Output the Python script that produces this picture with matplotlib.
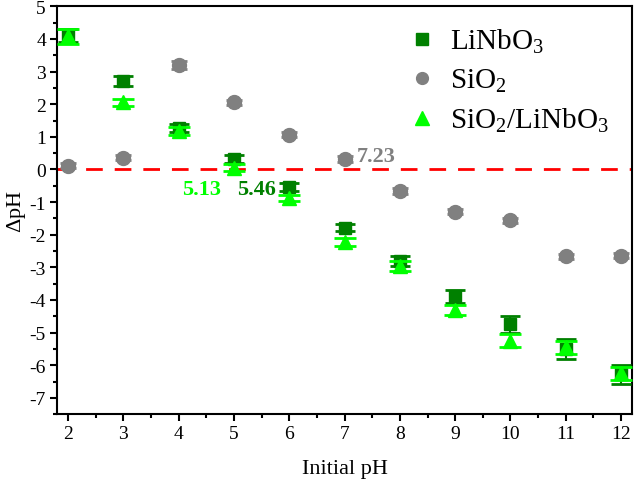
import numpy as np
import matplotlib
matplotlib.use('Agg')
from matplotlib import pyplot as plt
from matplotlib.ticker import MultipleLocator
from matplotlib.lines import Line2D

plt.rcParams['font.family'] = ['Liberation Serif', 'DejaVu Serif']
plt.rcParams['mathtext.fontset'] = 'custom'
plt.rcParams['mathtext.rm'] = 'Liberation Serif'
plt.rcParams['mathtext.it'] = 'Liberation Serif:italic'
plt.rcParams['mathtext.bf'] = 'Liberation Serif:bold'
plt.rcParams['axes.unicode_minus'] = False

ph_inicial = [2, 3, 4, 5, 6, 7, 8, 9, 10, 11, 12]

delta_linbo3 = [4.1, 2.72, 1.28, 0.31, -0.53, -1.78, -2.8, -3.88, -4.75, -5.5, -6.28]
erro_linbo3 = [0.2, 0.15, 0.12, 0.12, 0.12, 0.12, 0.15, 0.2, 0.25, 0.3, 0.3]

delta_sio2 = [0.12, 0.36, 3.2, 2.06, 1.07, 0.32, -0.66, -1.3, -1.56, -2.66, -2.64]
erro_sio2 = [0.08, 0.08, 0.12, 0.08, 0.08, 0.08, 0.08, 0.08, 0.08, 0.08, 0.08]

delta_comp = [4.08, 2.06, 1.18, 0.06, -0.88, -2.22, -2.97, -4.3, -5.25, -5.45, -6.25]
erro_comp = [0.22, 0.1, 0.12, 0.1, 0.1, 0.12, 0.15, 0.15, 0.2, 0.2, 0.2]

nomes = [r'LiNbO$_3$', r'SiO$_2$', r'SiO$_2$/LiNbO$_3$']

verdeEscuro = '#008000'
verdeClaro = '#00ff00'
cinza = '#808080'

fig = plt.figure(figsize=(6.34, 4.89), dpi=100)
ax = fig.add_axes([0.09, 0.151, 0.907, 0.834])

ax.axhline(0, color='red', lw=2, dashes=(6, 4.3), zorder=1)

ax.errorbar(ph_inicial, delta_linbo3, yerr=erro_linbo3, fmt='s', color=verdeEscuro,
            ms=9, capsize=7, capthick=2, elinewidth=1.5, zorder=3)
ax.errorbar(ph_inicial, delta_sio2, yerr=erro_sio2, fmt='o', color=cinza,
            ms=10, capsize=6, capthick=2, elinewidth=1.5, zorder=2)
ax.errorbar(ph_inicial, delta_comp, yerr=erro_comp, fmt='^', color=verdeClaro,
            ms=10, capsize=8, capthick=2, elinewidth=1.5, zorder=4)

ax.text(4.42, -0.6, '5.13', color=verdeClaro, fontsize=16, fontweight='bold', ha='center', va='center')
ax.text(5.41, -0.6, '5.46', color=verdeEscuro, fontsize=16, fontweight='bold', ha='center', va='center')
ax.text(7.58, 0.4, '7.23', color=cinza, fontsize=16, fontweight='bold', ha='center', va='center')

ax.set_xlim(1.8, 12.2)
ax.set_ylim(-7.5, 5)
ax.set_xticks(range(2, 13))
ax.set_yticks(range(-7, 6))
ax.xaxis.set_minor_locator(MultipleLocator(0.5))
ax.yaxis.set_minor_locator(MultipleLocator(0.5))
ax.tick_params(which='both', direction='out', width=1.5, labelsize=14, top=False, right=False)
ax.tick_params(which='major', length=5, pad=3)
ax.tick_params(which='minor', length=3)
for lado in ax.spines.values():
    lado.set_linewidth(1.5)

ax.set_xlabel('Initial pH', fontsize=16, labelpad=12)
ax.set_ylabel(r'$\Delta$pH', fontsize=16)
ax.yaxis.set_label_coords(-0.05, 0.5)

marcadores = [
    Line2D([], [], ls='', marker='s', color=verdeEscuro, ms=8),
    Line2D([], [], ls='', marker='o', color=cinza, ms=8.5),
    Line2D([], [], ls='', marker='^', color=verdeClaro, ms=10),
]
ax.legend(marcadores, nomes, loc='upper right', frameon=False, fontsize=21,
          handletextpad=0.45, handlelength=1.0, labelspacing=0.4, borderaxespad=0.1,
          bbox_to_anchor=(0.985, 0.985))

plt.savefig('out.png', dpi=100)
